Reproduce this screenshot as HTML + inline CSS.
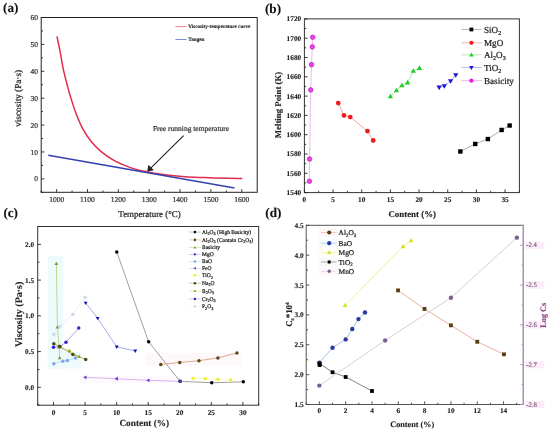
<!DOCTYPE html><html><head><meta charset="utf-8"><style>html,body{margin:0;padding:0;background:#fff;}svg{display:block;filter:blur(0.35px);}</style></head><body>
<svg width="550" height="432" viewBox="0 0 550 432" text-rendering="geometricPrecision" font-family='"Liberation Serif", serif'>
<rect width="550" height="432" fill="#fff"/>
<text x="10.7" y="12.19" font-size="13.2" text-anchor="middle" font-weight="bold" fill="#111" stroke="#111" stroke-width="0.12">(a)</text>
<path d="M57,36.4 C57.55,39.12 59.22,47.07 60.3,52.7 C61.38,58.33 62.23,64.38 63.5,70.2 C64.77,76.02 66.57,82.63 67.9,87.6 C69.23,92.57 70.17,95.75 71.5,100 C72.83,104.25 74.07,108.37 75.9,113.1 C77.73,117.83 79.95,123.67 82.5,128.4 C85.05,133.13 87.93,137.5 91.2,141.5 C94.47,145.5 98.1,149.13 102.1,152.4 C106.1,155.67 110.47,158.57 115.2,161.1 C119.93,163.63 125.42,165.85 130.5,167.6 C135.58,169.35 140.25,170.43 145.7,171.6 C151.15,172.77 156.65,173.73 163.2,174.6 C169.75,175.47 177.95,176.3 185,176.8 C192.05,177.3 198.45,177.35 205.5,177.6 C212.55,177.85 221.17,178.17 227.3,178.3 C233.43,178.43 239.8,178.38 242.3,178.4" fill="none" stroke="#e02c4c" stroke-width="1.5"/>
<line x1="48.3" y1="155.3" x2="234.5" y2="188" stroke="#3440b0" stroke-width="1.5"/>
<rect x="41.2" y="17.5" width="216" height="174.8" fill="none" stroke="#222" stroke-width="1"/>
<line x1="56.63" y1="192.3" x2="56.63" y2="189.1" stroke="#222" stroke-width="0.9"/>
<line x1="87.49" y1="192.3" x2="87.49" y2="189.1" stroke="#222" stroke-width="0.9"/>
<line x1="118.34" y1="192.3" x2="118.34" y2="189.1" stroke="#222" stroke-width="0.9"/>
<line x1="149.2" y1="192.3" x2="149.2" y2="189.1" stroke="#222" stroke-width="0.9"/>
<line x1="180.06" y1="192.3" x2="180.06" y2="189.1" stroke="#222" stroke-width="0.9"/>
<line x1="210.91" y1="192.3" x2="210.91" y2="189.1" stroke="#222" stroke-width="0.9"/>
<line x1="241.77" y1="192.3" x2="241.77" y2="189.1" stroke="#222" stroke-width="0.9"/>
<line x1="41.2" y1="192.3" x2="41.2" y2="190.5" stroke="#222" stroke-width="0.9"/>
<line x1="72.06" y1="192.3" x2="72.06" y2="190.5" stroke="#222" stroke-width="0.9"/>
<line x1="102.91" y1="192.3" x2="102.91" y2="190.5" stroke="#222" stroke-width="0.9"/>
<line x1="133.77" y1="192.3" x2="133.77" y2="190.5" stroke="#222" stroke-width="0.9"/>
<line x1="164.63" y1="192.3" x2="164.63" y2="190.5" stroke="#222" stroke-width="0.9"/>
<line x1="195.49" y1="192.3" x2="195.49" y2="190.5" stroke="#222" stroke-width="0.9"/>
<line x1="226.34" y1="192.3" x2="226.34" y2="190.5" stroke="#222" stroke-width="0.9"/>
<line x1="41.2" y1="178.85" x2="44.4" y2="178.85" stroke="#222" stroke-width="0.9"/>
<line x1="41.2" y1="151.96" x2="44.4" y2="151.96" stroke="#222" stroke-width="0.9"/>
<line x1="41.2" y1="125.07" x2="44.4" y2="125.07" stroke="#222" stroke-width="0.9"/>
<line x1="41.2" y1="98.18" x2="44.4" y2="98.18" stroke="#222" stroke-width="0.9"/>
<line x1="41.2" y1="71.28" x2="44.4" y2="71.28" stroke="#222" stroke-width="0.9"/>
<line x1="41.2" y1="44.39" x2="44.4" y2="44.39" stroke="#222" stroke-width="0.9"/>
<line x1="41.2" y1="17.5" x2="44.4" y2="17.5" stroke="#222" stroke-width="0.9"/>
<line x1="41.2" y1="192.3" x2="43" y2="192.3" stroke="#222" stroke-width="0.9"/>
<line x1="41.2" y1="165.41" x2="43" y2="165.41" stroke="#222" stroke-width="0.9"/>
<line x1="41.2" y1="138.52" x2="43" y2="138.52" stroke="#222" stroke-width="0.9"/>
<line x1="41.2" y1="111.62" x2="43" y2="111.62" stroke="#222" stroke-width="0.9"/>
<line x1="41.2" y1="84.73" x2="43" y2="84.73" stroke="#222" stroke-width="0.9"/>
<line x1="41.2" y1="57.84" x2="43" y2="57.84" stroke="#222" stroke-width="0.9"/>
<line x1="41.2" y1="30.95" x2="43" y2="30.95" stroke="#222" stroke-width="0.9"/>
<text x="56.63" y="202.15" font-size="7.5" text-anchor="middle" font-weight="normal" fill="#333" stroke="#333" stroke-width="0.22">1000</text>
<text x="87.49" y="202.15" font-size="7.5" text-anchor="middle" font-weight="normal" fill="#333" stroke="#333" stroke-width="0.22">1100</text>
<text x="118.34" y="202.15" font-size="7.5" text-anchor="middle" font-weight="normal" fill="#333" stroke="#333" stroke-width="0.22">1200</text>
<text x="149.2" y="202.15" font-size="7.5" text-anchor="middle" font-weight="normal" fill="#333" stroke="#333" stroke-width="0.22">1300</text>
<text x="180.06" y="202.15" font-size="7.5" text-anchor="middle" font-weight="normal" fill="#333" stroke="#333" stroke-width="0.22">1400</text>
<text x="210.91" y="202.15" font-size="7.5" text-anchor="middle" font-weight="normal" fill="#333" stroke="#333" stroke-width="0.22">1500</text>
<text x="241.77" y="202.15" font-size="7.5" text-anchor="middle" font-weight="normal" fill="#333" stroke="#333" stroke-width="0.22">1600</text>
<text x="38" y="181.4" font-size="7.5" text-anchor="end" font-weight="normal" fill="#333" stroke="#333" stroke-width="0.22">0</text>
<text x="38" y="154.51" font-size="7.5" text-anchor="end" font-weight="normal" fill="#333" stroke="#333" stroke-width="0.22">10</text>
<text x="38" y="127.62" font-size="7.5" text-anchor="end" font-weight="normal" fill="#333" stroke="#333" stroke-width="0.22">20</text>
<text x="38" y="100.73" font-size="7.5" text-anchor="end" font-weight="normal" fill="#333" stroke="#333" stroke-width="0.22">30</text>
<text x="38" y="73.83" font-size="7.5" text-anchor="end" font-weight="normal" fill="#333" stroke="#333" stroke-width="0.22">40</text>
<text x="38" y="46.94" font-size="7.5" text-anchor="end" font-weight="normal" fill="#333" stroke="#333" stroke-width="0.22">50</text>
<text x="38" y="20.05" font-size="7.5" text-anchor="end" font-weight="normal" fill="#333" stroke="#333" stroke-width="0.22">60</text>
<text x="149.5" y="216.53" font-size="8.9" text-anchor="middle" font-weight="normal" fill="#222" stroke="#222" stroke-width="0.22">Temperature (°C)</text>
<text x="17.8" y="101.53" font-size="9.2" text-anchor="middle" font-weight="normal" fill="#222" stroke="#222" stroke-width="0.22" transform="rotate(-90 17.8 98.4)">viscosity (Pa·s)</text>
<line x1="183.6" y1="135.7" x2="150.5" y2="168.3" stroke="#222" stroke-width="1.1"/>
<polygon points="147.2,171.6 148.4,164.8 153.9,170.3" fill="#222"/>
<text x="191" y="131.05" font-size="7.5" text-anchor="middle" font-weight="normal" fill="#333" stroke="#333" stroke-width="0.22">Free running temperature</text>
<line x1="175.4" y1="26.6" x2="186.6" y2="26.6" stroke="#f07080" stroke-width="0.9"/>
<text x="188.3" y="27.85" font-size="5.15" text-anchor="start" font-weight="bold" fill="#222" stroke="#222" stroke-width="0.12">Viscosity-temperature curve</text>
<line x1="175.4" y1="39.5" x2="186.6" y2="39.5" stroke="#7080d0" stroke-width="0.9"/>
<text x="188.3" y="41.35" font-size="5.15" text-anchor="start" font-weight="bold" fill="#222" stroke="#222" stroke-width="0.12">Tangen</text>
<text x="273" y="12.99" font-size="13.2" text-anchor="middle" font-weight="bold" fill="#111" stroke="#111" stroke-width="0.12">(b)</text>
<rect x="304.4" y="18.9" width="215" height="173.7" fill="none" stroke="#333" stroke-width="1"/>
<line x1="304.4" y1="192.6" x2="304.4" y2="189.4" stroke="#222" stroke-width="0.9"/>
<line x1="333.07" y1="192.6" x2="333.07" y2="189.4" stroke="#222" stroke-width="0.9"/>
<line x1="361.73" y1="192.6" x2="361.73" y2="189.4" stroke="#222" stroke-width="0.9"/>
<line x1="390.4" y1="192.6" x2="390.4" y2="189.4" stroke="#222" stroke-width="0.9"/>
<line x1="419.07" y1="192.6" x2="419.07" y2="189.4" stroke="#222" stroke-width="0.9"/>
<line x1="447.73" y1="192.6" x2="447.73" y2="189.4" stroke="#222" stroke-width="0.9"/>
<line x1="476.4" y1="192.6" x2="476.4" y2="189.4" stroke="#222" stroke-width="0.9"/>
<line x1="505.07" y1="192.6" x2="505.07" y2="189.4" stroke="#222" stroke-width="0.9"/>
<line x1="318.73" y1="192.6" x2="318.73" y2="190.8" stroke="#222" stroke-width="0.9"/>
<line x1="347.4" y1="192.6" x2="347.4" y2="190.8" stroke="#222" stroke-width="0.9"/>
<line x1="376.07" y1="192.6" x2="376.07" y2="190.8" stroke="#222" stroke-width="0.9"/>
<line x1="404.73" y1="192.6" x2="404.73" y2="190.8" stroke="#222" stroke-width="0.9"/>
<line x1="433.4" y1="192.6" x2="433.4" y2="190.8" stroke="#222" stroke-width="0.9"/>
<line x1="462.07" y1="192.6" x2="462.07" y2="190.8" stroke="#222" stroke-width="0.9"/>
<line x1="490.73" y1="192.6" x2="490.73" y2="190.8" stroke="#222" stroke-width="0.9"/>
<line x1="519.4" y1="192.6" x2="519.4" y2="190.8" stroke="#222" stroke-width="0.9"/>
<line x1="304.4" y1="192.6" x2="307.6" y2="192.6" stroke="#222" stroke-width="0.9"/>
<line x1="304.4" y1="173.3" x2="307.6" y2="173.3" stroke="#222" stroke-width="0.9"/>
<line x1="304.4" y1="154" x2="307.6" y2="154" stroke="#222" stroke-width="0.9"/>
<line x1="304.4" y1="134.7" x2="307.6" y2="134.7" stroke="#222" stroke-width="0.9"/>
<line x1="304.4" y1="115.4" x2="307.6" y2="115.4" stroke="#222" stroke-width="0.9"/>
<line x1="304.4" y1="96.1" x2="307.6" y2="96.1" stroke="#222" stroke-width="0.9"/>
<line x1="304.4" y1="76.8" x2="307.6" y2="76.8" stroke="#222" stroke-width="0.9"/>
<line x1="304.4" y1="57.5" x2="307.6" y2="57.5" stroke="#222" stroke-width="0.9"/>
<line x1="304.4" y1="38.2" x2="307.6" y2="38.2" stroke="#222" stroke-width="0.9"/>
<line x1="304.4" y1="18.9" x2="307.6" y2="18.9" stroke="#222" stroke-width="0.9"/>
<line x1="304.4" y1="182.95" x2="306.2" y2="182.95" stroke="#222" stroke-width="0.9"/>
<line x1="304.4" y1="163.65" x2="306.2" y2="163.65" stroke="#222" stroke-width="0.9"/>
<line x1="304.4" y1="144.35" x2="306.2" y2="144.35" stroke="#222" stroke-width="0.9"/>
<line x1="304.4" y1="125.05" x2="306.2" y2="125.05" stroke="#222" stroke-width="0.9"/>
<line x1="304.4" y1="105.75" x2="306.2" y2="105.75" stroke="#222" stroke-width="0.9"/>
<line x1="304.4" y1="86.45" x2="306.2" y2="86.45" stroke="#222" stroke-width="0.9"/>
<line x1="304.4" y1="67.15" x2="306.2" y2="67.15" stroke="#222" stroke-width="0.9"/>
<line x1="304.4" y1="47.85" x2="306.2" y2="47.85" stroke="#222" stroke-width="0.9"/>
<line x1="304.4" y1="28.55" x2="306.2" y2="28.55" stroke="#222" stroke-width="0.9"/>
<text x="304.4" y="202.08" font-size="7.3" text-anchor="middle" font-weight="bold" fill="#222" stroke="#222" stroke-width="0.12">0</text>
<text x="333.07" y="202.08" font-size="7.3" text-anchor="middle" font-weight="bold" fill="#222" stroke="#222" stroke-width="0.12">5</text>
<text x="361.73" y="202.08" font-size="7.3" text-anchor="middle" font-weight="bold" fill="#222" stroke="#222" stroke-width="0.12">10</text>
<text x="390.4" y="202.08" font-size="7.3" text-anchor="middle" font-weight="bold" fill="#222" stroke="#222" stroke-width="0.12">15</text>
<text x="419.07" y="202.08" font-size="7.3" text-anchor="middle" font-weight="bold" fill="#222" stroke="#222" stroke-width="0.12">20</text>
<text x="447.73" y="202.08" font-size="7.3" text-anchor="middle" font-weight="bold" fill="#222" stroke="#222" stroke-width="0.12">25</text>
<text x="476.4" y="202.08" font-size="7.3" text-anchor="middle" font-weight="bold" fill="#222" stroke="#222" stroke-width="0.12">30</text>
<text x="505.07" y="202.08" font-size="7.3" text-anchor="middle" font-weight="bold" fill="#222" stroke="#222" stroke-width="0.12">35</text>
<text x="301.2" y="195.08" font-size="7.3" text-anchor="end" font-weight="bold" fill="#222" stroke="#222" stroke-width="0.12">1540</text>
<text x="301.2" y="175.78" font-size="7.3" text-anchor="end" font-weight="bold" fill="#222" stroke="#222" stroke-width="0.12">1560</text>
<text x="301.2" y="156.48" font-size="7.3" text-anchor="end" font-weight="bold" fill="#222" stroke="#222" stroke-width="0.12">1580</text>
<text x="301.2" y="137.18" font-size="7.3" text-anchor="end" font-weight="bold" fill="#222" stroke="#222" stroke-width="0.12">1600</text>
<text x="301.2" y="117.88" font-size="7.3" text-anchor="end" font-weight="bold" fill="#222" stroke="#222" stroke-width="0.12">1620</text>
<text x="301.2" y="98.58" font-size="7.3" text-anchor="end" font-weight="bold" fill="#222" stroke="#222" stroke-width="0.12">1640</text>
<text x="301.2" y="79.28" font-size="7.3" text-anchor="end" font-weight="bold" fill="#222" stroke="#222" stroke-width="0.12">1660</text>
<text x="301.2" y="59.98" font-size="7.3" text-anchor="end" font-weight="bold" fill="#222" stroke="#222" stroke-width="0.12">1680</text>
<text x="301.2" y="40.68" font-size="7.3" text-anchor="end" font-weight="bold" fill="#222" stroke="#222" stroke-width="0.12">1700</text>
<text x="301.2" y="21.38" font-size="7.3" text-anchor="end" font-weight="bold" fill="#222" stroke="#222" stroke-width="0.12">1720</text>
<text x="412.2" y="217.03" font-size="8.9" text-anchor="middle" font-weight="bold" fill="#222" stroke="#222" stroke-width="0.12">Content (%)</text>
<text x="278.3" y="107.99" font-size="8.8" text-anchor="middle" font-weight="bold" fill="#222" stroke="#222" stroke-width="0.12" transform="rotate(-90 278.3 105)">Melting Point (K)</text>
<polyline points="460.35,151.49 475.25,143.96 487.87,139.04 501.63,129.97 509.65,125.53" fill="none" stroke="#888888" stroke-width="0.7" stroke-linejoin="round"/>
<polyline points="338.23,103.05 343.96,115.4 350.27,117.04 367.47,131.03 373.2,140.49" fill="none" stroke="#f08080" stroke-width="0.7" stroke-linejoin="round"/>
<polyline points="390.4,96.49 396.42,90.5 401.87,85.48 407.6,82.59 413.33,71.01 419.47,68.11" fill="none" stroke="#80e080" stroke-width="0.7" stroke-linejoin="round"/>
<polyline points="439.13,87.42 444.29,85.97 450.6,81.05 455.76,74.97" fill="none" stroke="#8080e0" stroke-width="0.7" stroke-linejoin="round"/>
<polyline points="309.39,181.21 309.56,159.02 310.71,89.92 311.51,64.64 312.31,46.88 312.71,37.23" fill="none" stroke="#e080e0" stroke-width="0.55" stroke-linejoin="round"/>
<rect x="458.15" y="149.29" width="4.4" height="4.4" fill="#000000"/>
<rect x="473.05" y="141.76" width="4.4" height="4.4" fill="#000000"/>
<rect x="485.67" y="136.84" width="4.4" height="4.4" fill="#000000"/>
<rect x="499.43" y="127.77" width="4.4" height="4.4" fill="#000000"/>
<rect x="507.45" y="123.33" width="4.4" height="4.4" fill="#000000"/>
<circle cx="338.23" cy="103.05" r="2.4" fill="#ee1c1c"/>
<circle cx="343.96" cy="115.4" r="2.4" fill="#ee1c1c"/>
<circle cx="350.27" cy="117.04" r="2.4" fill="#ee1c1c"/>
<circle cx="367.47" cy="131.03" r="2.4" fill="#ee1c1c"/>
<circle cx="373.2" cy="140.49" r="2.4" fill="#ee1c1c"/>
<polygon points="390.4,93.73 393.04,98.29 387.76,98.29" fill="#22cc22"/>
<polygon points="396.42,87.74 399.06,92.3 393.78,92.3" fill="#22cc22"/>
<polygon points="401.87,82.72 404.51,87.28 399.23,87.28" fill="#22cc22"/>
<polygon points="407.6,79.83 410.24,84.39 404.96,84.39" fill="#22cc22"/>
<polygon points="413.33,68.25 415.97,72.81 410.69,72.81" fill="#22cc22"/>
<polygon points="419.47,65.35 422.11,69.91 416.83,69.91" fill="#22cc22"/>
<polygon points="439.13,90.18 441.77,85.62 436.49,85.62" fill="#1a1ad0"/>
<polygon points="444.29,88.73 446.93,84.17 441.65,84.17" fill="#1a1ad0"/>
<polygon points="450.6,83.81 453.24,79.25 447.96,79.25" fill="#1a1ad0"/>
<polygon points="455.76,77.73 458.4,73.17 453.12,73.17" fill="#1a1ad0"/>
<circle cx="309.39" cy="181.21" r="2.3" fill="#ee40ee" stroke="#b010b0" stroke-width="0.6"/>
<circle cx="309.56" cy="159.02" r="2.3" fill="#ee40ee" stroke="#b010b0" stroke-width="0.6"/>
<circle cx="310.71" cy="89.92" r="2.3" fill="#ee40ee" stroke="#b010b0" stroke-width="0.6"/>
<circle cx="311.51" cy="64.64" r="2.3" fill="#ee40ee" stroke="#b010b0" stroke-width="0.6"/>
<circle cx="312.31" cy="46.88" r="2.3" fill="#ee40ee" stroke="#b010b0" stroke-width="0.6"/>
<circle cx="312.71" cy="37.23" r="2.3" fill="#ee40ee" stroke="#b010b0" stroke-width="0.6"/>
<line x1="461.4" y1="29.5" x2="481.8" y2="29.5" stroke="#888888" stroke-width="0.8" opacity="0.75"/>
<rect x="469.5" y="27.6" width="3.8" height="3.8" fill="#000000"/>
<text x="484" y="32.59" font-size="9.1" text-anchor="start" font-weight="normal" fill="#222" stroke="#222" stroke-width="0.22">SiO<tspan font-size="6" dy="2">2</tspan></text>
<line x1="461.4" y1="42.8" x2="481.8" y2="42.8" stroke="#f08080" stroke-width="0.8" opacity="0.75"/>
<circle cx="471.4" cy="42.8" r="2.1" fill="#ee1c1c"/>
<text x="484" y="45.89" font-size="9.1" text-anchor="start" font-weight="normal" fill="#222" stroke="#222" stroke-width="0.22">MgO</text>
<line x1="461.4" y1="54.8" x2="481.8" y2="54.8" stroke="#80e080" stroke-width="0.8" opacity="0.75"/>
<polygon points="471.4,52.38 473.71,56.38 469.09,56.38" fill="#22cc22"/>
<text x="484" y="57.89" font-size="9.1" text-anchor="start" font-weight="normal" fill="#222" stroke="#222" stroke-width="0.22">Al<tspan font-size="6" dy="2">2</tspan><tspan dy="-2">O</tspan><tspan font-size="6" dy="2">3</tspan></text>
<line x1="461.4" y1="67.6" x2="481.8" y2="67.6" stroke="#8080e0" stroke-width="0.8" opacity="0.75"/>
<polygon points="471.4,70.02 473.71,66.02 469.09,66.02" fill="#1a1ad0"/>
<text x="484" y="70.69" font-size="9.1" text-anchor="start" font-weight="normal" fill="#222" stroke="#222" stroke-width="0.22">TiO<tspan font-size="6" dy="2">2</tspan></text>
<line x1="461.4" y1="80.7" x2="481.8" y2="80.7" stroke="#e080e0" stroke-width="0.8" opacity="0.75"/>
<circle cx="471.4" cy="80.7" r="2.1" fill="#e020e0"/>
<text x="484" y="83.79" font-size="9.1" text-anchor="start" font-weight="normal" fill="#222" stroke="#222" stroke-width="0.22">Basicity</text>
<text x="10.7" y="217.09" font-size="13.2" text-anchor="middle" font-weight="bold" fill="#111" stroke="#111" stroke-width="0.12">(c)</text>
<rect x="37.7" y="226.5" width="221" height="178.7" fill="none" stroke="#333" stroke-width="1"/>
<line x1="53.49" y1="405.2" x2="53.49" y2="402" stroke="#222" stroke-width="0.9"/>
<line x1="85.06" y1="405.2" x2="85.06" y2="402" stroke="#222" stroke-width="0.9"/>
<line x1="116.63" y1="405.2" x2="116.63" y2="402" stroke="#222" stroke-width="0.9"/>
<line x1="148.2" y1="405.2" x2="148.2" y2="402" stroke="#222" stroke-width="0.9"/>
<line x1="179.77" y1="405.2" x2="179.77" y2="402" stroke="#222" stroke-width="0.9"/>
<line x1="211.34" y1="405.2" x2="211.34" y2="402" stroke="#222" stroke-width="0.9"/>
<line x1="242.91" y1="405.2" x2="242.91" y2="402" stroke="#222" stroke-width="0.9"/>
<line x1="37.7" y1="405.2" x2="37.7" y2="403.4" stroke="#222" stroke-width="0.9"/>
<line x1="69.27" y1="405.2" x2="69.27" y2="403.4" stroke="#222" stroke-width="0.9"/>
<line x1="100.84" y1="405.2" x2="100.84" y2="403.4" stroke="#222" stroke-width="0.9"/>
<line x1="132.41" y1="405.2" x2="132.41" y2="403.4" stroke="#222" stroke-width="0.9"/>
<line x1="163.99" y1="405.2" x2="163.99" y2="403.4" stroke="#222" stroke-width="0.9"/>
<line x1="195.56" y1="405.2" x2="195.56" y2="403.4" stroke="#222" stroke-width="0.9"/>
<line x1="227.13" y1="405.2" x2="227.13" y2="403.4" stroke="#222" stroke-width="0.9"/>
<line x1="258.7" y1="405.2" x2="258.7" y2="403.4" stroke="#222" stroke-width="0.9"/>
<line x1="37.7" y1="387.33" x2="40.9" y2="387.33" stroke="#222" stroke-width="0.9"/>
<line x1="37.7" y1="351.59" x2="40.9" y2="351.59" stroke="#222" stroke-width="0.9"/>
<line x1="37.7" y1="315.85" x2="40.9" y2="315.85" stroke="#222" stroke-width="0.9"/>
<line x1="37.7" y1="280.11" x2="40.9" y2="280.11" stroke="#222" stroke-width="0.9"/>
<line x1="37.7" y1="244.37" x2="40.9" y2="244.37" stroke="#222" stroke-width="0.9"/>
<line x1="37.7" y1="405.2" x2="39.5" y2="405.2" stroke="#222" stroke-width="0.9"/>
<line x1="37.7" y1="369.46" x2="39.5" y2="369.46" stroke="#222" stroke-width="0.9"/>
<line x1="37.7" y1="333.72" x2="39.5" y2="333.72" stroke="#222" stroke-width="0.9"/>
<line x1="37.7" y1="297.98" x2="39.5" y2="297.98" stroke="#222" stroke-width="0.9"/>
<line x1="37.7" y1="262.24" x2="39.5" y2="262.24" stroke="#222" stroke-width="0.9"/>
<line x1="37.7" y1="226.5" x2="39.5" y2="226.5" stroke="#222" stroke-width="0.9"/>
<text x="53.49" y="415.28" font-size="7.3" text-anchor="middle" font-weight="bold" fill="#222" stroke="#222" stroke-width="0.12">0</text>
<text x="85.06" y="415.28" font-size="7.3" text-anchor="middle" font-weight="bold" fill="#222" stroke="#222" stroke-width="0.12">5</text>
<text x="116.63" y="415.28" font-size="7.3" text-anchor="middle" font-weight="bold" fill="#222" stroke="#222" stroke-width="0.12">10</text>
<text x="148.2" y="415.28" font-size="7.3" text-anchor="middle" font-weight="bold" fill="#222" stroke="#222" stroke-width="0.12">15</text>
<text x="179.77" y="415.28" font-size="7.3" text-anchor="middle" font-weight="bold" fill="#222" stroke="#222" stroke-width="0.12">20</text>
<text x="211.34" y="415.28" font-size="7.3" text-anchor="middle" font-weight="bold" fill="#222" stroke="#222" stroke-width="0.12">25</text>
<text x="242.91" y="415.28" font-size="7.3" text-anchor="middle" font-weight="bold" fill="#222" stroke="#222" stroke-width="0.12">30</text>
<text x="34.2" y="389.81" font-size="7.3" text-anchor="end" font-weight="bold" fill="#222" stroke="#222" stroke-width="0.12">0.0</text>
<text x="34.2" y="354.07" font-size="7.3" text-anchor="end" font-weight="bold" fill="#222" stroke="#222" stroke-width="0.12">0.5</text>
<text x="34.2" y="318.33" font-size="7.3" text-anchor="end" font-weight="bold" fill="#222" stroke="#222" stroke-width="0.12">1.0</text>
<text x="34.2" y="282.59" font-size="7.3" text-anchor="end" font-weight="bold" fill="#222" stroke="#222" stroke-width="0.12">1.5</text>
<text x="34.2" y="246.85" font-size="7.3" text-anchor="end" font-weight="bold" fill="#222" stroke="#222" stroke-width="0.12">2.0</text>
<text x="144.3" y="426.16" font-size="9.3" text-anchor="middle" font-weight="bold" fill="#222" stroke="#222" stroke-width="0.12">Content (%)</text>
<text x="18.3" y="317.8" font-size="10" text-anchor="middle" font-weight="bold" fill="#222" stroke="#222" stroke-width="0.12" transform="rotate(-90 18.3 314.4)">Viscosity (Pa·s)</text>
<rect x="145" y="353" width="96" height="13" fill="#fef8fb"/>
<rect x="80" y="376" width="98" height="7" fill="#fef9fe"/>
<rect x="47.8" y="256" width="15.5" height="112.5" fill="#eefbfc"/>
<rect x="47.8" y="352" width="33.5" height="16.5" fill="#eefbfc"/>
<polyline points="116.75,251.95 148.64,341.8 180.09,381.25 211.72,382.76 243.29,381.83" fill="none" stroke="#777777" stroke-width="0.7" stroke-linejoin="round"/>
<polyline points="160.77,364.46 179.77,362.45 198.97,360.74 217.91,357.88 236.92,353.02" fill="none" stroke="#d08a60" stroke-width="0.7" stroke-linejoin="round"/>
<polyline points="56.39,263.67 57.4,327.29 59.17,346.59 59.67,358.02" fill="none" stroke="#a8c860" stroke-width="0.7" stroke-linejoin="round"/>
<polyline points="85.69,302.98 97.69,318.35 116.75,346.87 135.26,350.88" fill="none" stroke="#8484dc" stroke-width="0.7" stroke-linejoin="round"/>
<polyline points="53.8,363.74 62.89,361.24 67.38,360.52 75.4,358.02" fill="none" stroke="#a8c8f0" stroke-width="0.7" stroke-linejoin="round"/>
<polyline points="85.18,377.32 116.63,378.75 148.2,380.32 180.4,381.33" fill="none" stroke="#c890e8" stroke-width="0.7" stroke-linejoin="round"/>
<polyline points="192.97,378.25 205.22,378.82 217.91,379.32 230.6,379.97" fill="none" stroke="#f8f8a0" stroke-width="0.7" stroke-linejoin="round"/>
<polyline points="53.49,347.3 59.8,346.59 65.99,342.3 78.74,328" fill="none" stroke="#9080e8" stroke-width="0.7" stroke-linejoin="round"/>
<polyline points="58.85,347.3 69.46,350.88 79.18,356.59" fill="none" stroke="#c8c860" stroke-width="0.7" stroke-linejoin="round"/>
<polyline points="53.8,343.73 59.67,346.59 72.87,354.45 85.69,359.45" fill="none" stroke="#8a8a40" stroke-width="0.7" stroke-linejoin="round"/>
<polyline points="53.8,334.43 59.8,326.57 72.87,314.42 85.06,297.27" fill="none" stroke="#e2e6f2" stroke-width="0.7" stroke-linejoin="round"/>
<circle cx="116.75" cy="251.95" r="1.75" fill="#000000"/>
<circle cx="148.64" cy="341.8" r="1.75" fill="#000000"/>
<circle cx="180.09" cy="381.25" r="1.75" fill="#000000"/>
<circle cx="211.72" cy="382.76" r="1.75" fill="#000000"/>
<circle cx="243.29" cy="381.83" r="1.75" fill="#000000"/>
<circle cx="160.77" cy="364.46" r="1.75" fill="#5a4a1a"/>
<circle cx="179.77" cy="362.45" r="1.75" fill="#5a4a1a"/>
<circle cx="198.97" cy="360.74" r="1.75" fill="#5a4a1a"/>
<circle cx="217.91" cy="357.88" r="1.75" fill="#5a4a1a"/>
<circle cx="236.92" cy="353.02" r="1.75" fill="#5a4a1a"/>
<polygon points="56.39,261.66 58.32,264.98 54.47,264.98" fill="#7aa02a"/>
<polygon points="57.4,325.27 59.33,328.6 55.48,328.6" fill="#7aa02a"/>
<polygon points="59.17,344.57 61.09,347.9 57.24,347.9" fill="#7aa02a"/>
<polygon points="59.67,356.01 61.6,359.34 57.75,359.34" fill="#7aa02a"/>
<polygon points="85.69,305 87.61,301.67 83.76,301.67" fill="#1010c0"/>
<polygon points="97.69,320.36 99.61,317.04 95.76,317.04" fill="#1010c0"/>
<polygon points="116.75,348.88 118.68,345.56 114.83,345.56" fill="#1010c0"/>
<polygon points="135.26,352.89 137.18,349.56 133.33,349.56" fill="#1010c0"/>
<circle cx="53.8" cy="363.74" r="1.75" fill="#80a8e0"/>
<circle cx="62.89" cy="361.24" r="1.75" fill="#80a8e0"/>
<circle cx="67.38" cy="360.52" r="1.75" fill="#80a8e0"/>
<circle cx="75.4" cy="358.02" r="1.75" fill="#80a8e0"/>
<polygon points="83.17,377.32 86.5,375.4 86.5,379.25" fill="#6040d0"/>
<polygon points="114.62,378.75 117.94,376.83 117.94,380.68" fill="#6040d0"/>
<polygon points="146.19,380.32 149.51,378.4 149.51,382.25" fill="#6040d0"/>
<polygon points="178.39,381.33 181.72,379.4 181.72,383.25" fill="#6040d0"/>
<circle cx="192.97" cy="378.25" r="1.75" fill="#f0f030"/>
<circle cx="205.22" cy="378.82" r="1.75" fill="#f0f030"/>
<circle cx="217.91" cy="379.32" r="1.75" fill="#f0f030"/>
<circle cx="230.6" cy="379.97" r="1.75" fill="#f0f030"/>
<circle cx="53.49" cy="347.3" r="1.75" fill="#3a20d0"/>
<circle cx="59.8" cy="346.59" r="1.75" fill="#3a20d0"/>
<circle cx="65.99" cy="342.3" r="1.75" fill="#3a20d0"/>
<circle cx="78.74" cy="328" r="1.75" fill="#3a20d0"/>
<polygon points="58.85,345.29 60.78,348.61 56.93,348.61" fill="#a0a020"/>
<polygon points="69.46,348.86 71.39,352.19 67.54,352.19" fill="#a0a020"/>
<polygon points="79.18,354.58 81.11,357.91 77.26,357.91" fill="#a0a020"/>
<circle cx="53.8" cy="343.73" r="1.75" fill="#4a4a10"/>
<circle cx="59.67" cy="346.59" r="1.75" fill="#4a4a10"/>
<circle cx="72.87" cy="354.45" r="1.75" fill="#4a4a10"/>
<circle cx="85.69" cy="359.45" r="1.75" fill="#4a4a10"/>
<circle cx="53.8" cy="334.43" r="1.75" fill="#d0d8ec"/>
<circle cx="59.8" cy="326.57" r="1.75" fill="#d0d8ec"/>
<circle cx="72.87" cy="314.42" r="1.75" fill="#d0d8ec"/>
<circle cx="85.06" cy="297.27" r="1.75" fill="#d0d8ec"/>
<line x1="189" y1="232.1" x2="200.9" y2="232.1" stroke="#777777" stroke-width="0.6" opacity="0.7"/>
<circle cx="194.9" cy="232.1" r="1.3" fill="#000000"/>
<text x="202" y="233.97" font-size="5.5" text-anchor="start" font-weight="normal" fill="#222" stroke="#222" stroke-width="0.22">Al<tspan font-size="4.2" dy="1.3">2</tspan><tspan dy="-1.3">O</tspan><tspan font-size="4.2" dy="1.3">3</tspan><tspan dy="-1.3"> (High Basicity)</tspan></text>
<line x1="189" y1="239.9" x2="200.9" y2="239.9" stroke="#d08a60" stroke-width="0.6" opacity="0.7"/>
<circle cx="194.9" cy="239.9" r="1.3" fill="#5a4a1a"/>
<text x="202" y="241.77" font-size="5.5" text-anchor="start" font-weight="normal" fill="#222" stroke="#222" stroke-width="0.22">Al<tspan font-size="4.2" dy="1.3">2</tspan><tspan dy="-1.3">O</tspan><tspan font-size="4.2" dy="1.3">3</tspan><tspan dy="-1.3"> (Contain Cr</tspan><tspan font-size="4.2" dy="1.3">2</tspan><tspan dy="-1.3">O</tspan><tspan font-size="4.2" dy="1.3">3</tspan><tspan dy="-1.3">)</tspan></text>
<line x1="189" y1="247.5" x2="200.9" y2="247.5" stroke="#a8c860" stroke-width="0.6" opacity="0.7"/>
<polygon points="194.9,246 196.33,248.47 193.47,248.47" fill="#7aa02a"/>
<text x="202" y="249.37" font-size="5.5" text-anchor="start" font-weight="normal" fill="#222" stroke="#222" stroke-width="0.22">Basicity</text>
<line x1="189" y1="254.5" x2="200.9" y2="254.5" stroke="#8484dc" stroke-width="0.6" opacity="0.7"/>
<polygon points="194.9,256 196.33,253.53 193.47,253.53" fill="#1010c0"/>
<text x="202" y="256.37" font-size="5.5" text-anchor="start" font-weight="normal" fill="#222" stroke="#222" stroke-width="0.22">MgO</text>
<line x1="189" y1="261.5" x2="200.9" y2="261.5" stroke="#a8c8f0" stroke-width="0.6" opacity="0.7"/>
<circle cx="194.9" cy="261.5" r="1.3" fill="#80a8e0"/>
<text x="202" y="263.37" font-size="5.5" text-anchor="start" font-weight="normal" fill="#222" stroke="#222" stroke-width="0.22">BaO</text>
<line x1="189" y1="268.3" x2="200.9" y2="268.3" stroke="#c890e8" stroke-width="0.6" opacity="0.7"/>
<polygon points="193.41,268.3 195.88,266.87 195.88,269.73" fill="#6040d0"/>
<text x="202" y="270.17" font-size="5.5" text-anchor="start" font-weight="normal" fill="#222" stroke="#222" stroke-width="0.22">FeO</text>
<line x1="189" y1="275.4" x2="200.9" y2="275.4" stroke="#f8f8a0" stroke-width="0.6" opacity="0.7"/>
<circle cx="194.9" cy="275.4" r="1.3" fill="#f0f030"/>
<text x="202" y="277.27" font-size="5.5" text-anchor="start" font-weight="normal" fill="#222" stroke="#222" stroke-width="0.22">TiO<tspan font-size="4.2" dy="1.3">2</tspan></text>
<line x1="189" y1="283.2" x2="200.9" y2="283.2" stroke="#8a8a40" stroke-width="0.6" opacity="0.7"/>
<circle cx="194.9" cy="283.2" r="1.3" fill="#4a4a10"/>
<text x="202" y="285.07" font-size="5.5" text-anchor="start" font-weight="normal" fill="#222" stroke="#222" stroke-width="0.22">Na<tspan font-size="4.2" dy="1.3">2</tspan><tspan dy="-1.3">O</tspan></text>
<line x1="189" y1="291.1" x2="200.9" y2="291.1" stroke="#c8c860" stroke-width="0.6" opacity="0.7"/>
<polygon points="194.9,289.61 196.33,292.08 193.47,292.08" fill="#a0a020"/>
<text x="202" y="292.97" font-size="5.5" text-anchor="start" font-weight="normal" fill="#222" stroke="#222" stroke-width="0.22">B<tspan font-size="4.2" dy="1.3">2</tspan><tspan dy="-1.3">O</tspan><tspan font-size="4.2" dy="1.3">3</tspan></text>
<line x1="189" y1="299" x2="200.9" y2="299" stroke="#9080e8" stroke-width="0.6" opacity="0.7"/>
<circle cx="194.9" cy="299" r="1.3" fill="#3a20d0"/>
<text x="202" y="300.87" font-size="5.5" text-anchor="start" font-weight="normal" fill="#222" stroke="#222" stroke-width="0.22">Cr<tspan font-size="4.2" dy="1.3">2</tspan><tspan dy="-1.3">O</tspan><tspan font-size="4.2" dy="1.3">3</tspan></text>
<line x1="189" y1="306.4" x2="200.9" y2="306.4" stroke="#e2e6f2" stroke-width="0.6" opacity="0.7"/>
<circle cx="194.9" cy="306.4" r="1.3" fill="#d0d8ec"/>
<text x="202" y="308.27" font-size="5.5" text-anchor="start" font-weight="normal" fill="#222" stroke="#222" stroke-width="0.22">P<tspan font-size="4.2" dy="1.3">2</tspan><tspan dy="-1.3">O</tspan><tspan font-size="4.2" dy="1.3">3</tspan></text>
<text x="273.3" y="216.99" font-size="13.2" text-anchor="middle" font-weight="bold" fill="#111" stroke="#111" stroke-width="0.12">(d)</text>
<rect x="306.2" y="225.3" width="217.1" height="179.2" fill="none" stroke="#555" stroke-width="1"/>
<line x1="523.3" y1="225.3" x2="523.3" y2="404.5" stroke="#a898c4" stroke-width="1.2"/>
<line x1="319.36" y1="404.5" x2="319.36" y2="401.3" stroke="#444" stroke-width="0.9"/>
<line x1="345.67" y1="404.5" x2="345.67" y2="401.3" stroke="#444" stroke-width="0.9"/>
<line x1="371.99" y1="404.5" x2="371.99" y2="401.3" stroke="#444" stroke-width="0.9"/>
<line x1="398.3" y1="404.5" x2="398.3" y2="401.3" stroke="#444" stroke-width="0.9"/>
<line x1="424.62" y1="404.5" x2="424.62" y2="401.3" stroke="#444" stroke-width="0.9"/>
<line x1="450.93" y1="404.5" x2="450.93" y2="401.3" stroke="#444" stroke-width="0.9"/>
<line x1="477.25" y1="404.5" x2="477.25" y2="401.3" stroke="#444" stroke-width="0.9"/>
<line x1="503.56" y1="404.5" x2="503.56" y2="401.3" stroke="#444" stroke-width="0.9"/>
<line x1="306.2" y1="404.5" x2="306.2" y2="402.7" stroke="#444" stroke-width="0.9"/>
<line x1="332.52" y1="404.5" x2="332.52" y2="402.7" stroke="#444" stroke-width="0.9"/>
<line x1="358.83" y1="404.5" x2="358.83" y2="402.7" stroke="#444" stroke-width="0.9"/>
<line x1="385.15" y1="404.5" x2="385.15" y2="402.7" stroke="#444" stroke-width="0.9"/>
<line x1="411.46" y1="404.5" x2="411.46" y2="402.7" stroke="#444" stroke-width="0.9"/>
<line x1="437.78" y1="404.5" x2="437.78" y2="402.7" stroke="#444" stroke-width="0.9"/>
<line x1="464.09" y1="404.5" x2="464.09" y2="402.7" stroke="#444" stroke-width="0.9"/>
<line x1="490.41" y1="404.5" x2="490.41" y2="402.7" stroke="#444" stroke-width="0.9"/>
<line x1="516.72" y1="404.5" x2="516.72" y2="402.7" stroke="#444" stroke-width="0.9"/>
<line x1="306.2" y1="404.5" x2="309.4" y2="404.5" stroke="#444" stroke-width="0.9"/>
<line x1="306.2" y1="374.63" x2="309.4" y2="374.63" stroke="#444" stroke-width="0.9"/>
<line x1="306.2" y1="344.77" x2="309.4" y2="344.77" stroke="#444" stroke-width="0.9"/>
<line x1="306.2" y1="314.9" x2="309.4" y2="314.9" stroke="#444" stroke-width="0.9"/>
<line x1="306.2" y1="285.03" x2="309.4" y2="285.03" stroke="#444" stroke-width="0.9"/>
<line x1="306.2" y1="255.17" x2="309.4" y2="255.17" stroke="#444" stroke-width="0.9"/>
<line x1="306.2" y1="225.3" x2="309.4" y2="225.3" stroke="#444" stroke-width="0.9"/>
<line x1="306.2" y1="389.57" x2="308" y2="389.57" stroke="#444" stroke-width="0.9"/>
<line x1="306.2" y1="359.7" x2="308" y2="359.7" stroke="#444" stroke-width="0.9"/>
<line x1="306.2" y1="329.83" x2="308" y2="329.83" stroke="#444" stroke-width="0.9"/>
<line x1="306.2" y1="299.97" x2="308" y2="299.97" stroke="#444" stroke-width="0.9"/>
<line x1="306.2" y1="270.1" x2="308" y2="270.1" stroke="#444" stroke-width="0.9"/>
<line x1="306.2" y1="240.23" x2="308" y2="240.23" stroke="#444" stroke-width="0.9"/>
<line x1="523.3" y1="404.5" x2="520.1" y2="404.5" stroke="#a494c0" stroke-width="0.9"/>
<line x1="523.3" y1="364.68" x2="520.1" y2="364.68" stroke="#a494c0" stroke-width="0.9"/>
<line x1="523.3" y1="324.86" x2="520.1" y2="324.86" stroke="#a494c0" stroke-width="0.9"/>
<line x1="523.3" y1="285.03" x2="520.1" y2="285.03" stroke="#a494c0" stroke-width="0.9"/>
<line x1="523.3" y1="245.21" x2="520.1" y2="245.21" stroke="#a494c0" stroke-width="0.9"/>
<line x1="523.3" y1="384.59" x2="521.5" y2="384.59" stroke="#a494c0" stroke-width="0.9"/>
<line x1="523.3" y1="344.77" x2="521.5" y2="344.77" stroke="#a494c0" stroke-width="0.9"/>
<line x1="523.3" y1="304.94" x2="521.5" y2="304.94" stroke="#a494c0" stroke-width="0.9"/>
<line x1="523.3" y1="265.12" x2="521.5" y2="265.12" stroke="#a494c0" stroke-width="0.9"/>
<line x1="523.3" y1="225.3" x2="521.5" y2="225.3" stroke="#a494c0" stroke-width="0.9"/>
<text x="319.36" y="413.18" font-size="7.3" text-anchor="middle" font-weight="bold" fill="#222" stroke="#222" stroke-width="0.12">0</text>
<text x="345.67" y="413.18" font-size="7.3" text-anchor="middle" font-weight="bold" fill="#222" stroke="#222" stroke-width="0.12">2</text>
<text x="371.99" y="413.18" font-size="7.3" text-anchor="middle" font-weight="bold" fill="#222" stroke="#222" stroke-width="0.12">4</text>
<text x="398.3" y="413.18" font-size="7.3" text-anchor="middle" font-weight="bold" fill="#222" stroke="#222" stroke-width="0.12">6</text>
<text x="424.62" y="413.18" font-size="7.3" text-anchor="middle" font-weight="bold" fill="#222" stroke="#222" stroke-width="0.12">8</text>
<text x="450.93" y="413.18" font-size="7.3" text-anchor="middle" font-weight="bold" fill="#222" stroke="#222" stroke-width="0.12">10</text>
<text x="477.25" y="413.18" font-size="7.3" text-anchor="middle" font-weight="bold" fill="#222" stroke="#222" stroke-width="0.12">12</text>
<text x="503.56" y="413.18" font-size="7.3" text-anchor="middle" font-weight="bold" fill="#222" stroke="#222" stroke-width="0.12">14</text>
<text x="303.7" y="406.98" font-size="7.3" text-anchor="end" font-weight="bold" fill="#222" stroke="#222" stroke-width="0.12">1.5</text>
<text x="303.7" y="377.12" font-size="7.3" text-anchor="end" font-weight="bold" fill="#222" stroke="#222" stroke-width="0.12">2.0</text>
<text x="303.7" y="347.25" font-size="7.3" text-anchor="end" font-weight="bold" fill="#222" stroke="#222" stroke-width="0.12">2.5</text>
<text x="303.7" y="317.38" font-size="7.3" text-anchor="end" font-weight="bold" fill="#222" stroke="#222" stroke-width="0.12">3.0</text>
<text x="303.7" y="287.52" font-size="7.3" text-anchor="end" font-weight="bold" fill="#222" stroke="#222" stroke-width="0.12">3.5</text>
<text x="303.7" y="257.65" font-size="7.3" text-anchor="end" font-weight="bold" fill="#222" stroke="#222" stroke-width="0.12">4.0</text>
<text x="303.7" y="227.78" font-size="7.3" text-anchor="end" font-weight="bold" fill="#222" stroke="#222" stroke-width="0.12">4.5</text>
<rect x="524.6" y="241.56" width="19.7" height="7.3" fill="#fcecf7"/>
<text x="526.3" y="247.49" font-size="6.7" fill="#684870" stroke="#684870" stroke-width="0.1">-2.4</text>
<rect x="524.6" y="281.38" width="19.7" height="7.3" fill="#fcecf7"/>
<text x="526.3" y="287.31" font-size="6.7" fill="#684870" stroke="#684870" stroke-width="0.1">-2.5</text>
<rect x="524.6" y="321.21" width="19.7" height="7.3" fill="#fcecf7"/>
<text x="526.3" y="327.13" font-size="6.7" fill="#684870" stroke="#684870" stroke-width="0.1">-2.6</text>
<rect x="524.6" y="361.03" width="19.7" height="7.3" fill="#fcecf7"/>
<text x="526.3" y="366.96" font-size="6.7" fill="#684870" stroke="#684870" stroke-width="0.1">-2.7</text>
<rect x="524.6" y="400.85" width="19.7" height="7.3" fill="#fcecf7"/>
<text x="526.3" y="406.78" font-size="6.7" fill="#684870" stroke="#684870" stroke-width="0.1">-2.8</text>
<text x="412.2" y="426.99" font-size="8.2" text-anchor="middle" font-weight="bold" fill="#222" stroke="#222" stroke-width="0.12">Content (%)</text>
<text x="289" y="314.5" font-size="8.8" font-weight="bold" fill="#222" stroke="#222" stroke-width="0.15" text-anchor="middle" transform="rotate(-90 289 314.5)" dy="3">C<tspan font-size="5.5" dy="2">s</tspan><tspan dy="-2">*10</tspan><tspan font-size="5.5" dy="-3">4</tspan></text>
<text x="542.8" y="318.02" font-size="8.3" text-anchor="middle" font-weight="bold" fill="#8a3a7a" stroke="#8a3a7a" stroke-width="0.12" transform="rotate(-90 542.8 315.2)">Log Cs</text>
<polyline points="398.04,290.41 424.49,308.93 450.93,325.35 477.25,341.78 503.96,354.32" fill="none" stroke="#e0a080" stroke-width="0.8" stroke-linejoin="round"/>
<polyline points="319.36,362.69 332.52,347.75 345.67,339.39 352.25,328.94 358.44,319.08 365.01,312.51" fill="none" stroke="#90b0e0" stroke-width="0.8" stroke-linejoin="round"/>
<polyline points="345.01,305.34 403.04,246.51 411.07,240.53" fill="none" stroke="#f0f080" stroke-width="0.8" stroke-linejoin="round"/>
<polyline points="319.62,363.58 332.52,372.24 345.67,377.02 371.99,391" fill="none" stroke="#666666" stroke-width="0.8" stroke-linejoin="round"/>
<polyline points="319.36,385.58 385.15,340.39 450.93,297.78 516.85,237.64" fill="none" stroke="#d8bcd0" stroke-width="0.8" stroke-linejoin="round"/>
<rect x="396.14" y="288.51" width="3.8" height="3.8" fill="#5a3a10"/>
<rect x="422.59" y="307.03" width="3.8" height="3.8" fill="#5a3a10"/>
<rect x="449.03" y="323.45" width="3.8" height="3.8" fill="#5a3a10"/>
<rect x="475.35" y="339.88" width="3.8" height="3.8" fill="#5a3a10"/>
<rect x="502.06" y="352.42" width="3.8" height="3.8" fill="#5a3a10"/>
<circle cx="319.36" cy="362.69" r="2.2" fill="#2a3aa0"/>
<circle cx="332.52" cy="347.75" r="2.2" fill="#2a3aa0"/>
<circle cx="345.67" cy="339.39" r="2.2" fill="#2a3aa0"/>
<circle cx="352.25" cy="328.94" r="2.2" fill="#2a3aa0"/>
<circle cx="358.44" cy="319.08" r="2.2" fill="#2a3aa0"/>
<circle cx="365.01" cy="312.51" r="2.2" fill="#2a3aa0"/>
<polygon points="345.01,302.81 347.43,306.99 342.59,306.99" fill="#d8e020"/>
<polygon points="403.04,243.98 405.46,248.16 400.62,248.16" fill="#d8e020"/>
<polygon points="411.07,238 413.49,242.18 408.65,242.18" fill="#d8e020"/>
<rect x="317.72" y="361.68" width="3.8" height="3.8" fill="#000000"/>
<rect x="330.62" y="370.34" width="3.8" height="3.8" fill="#000000"/>
<rect x="343.77" y="375.12" width="3.8" height="3.8" fill="#000000"/>
<rect x="370.09" y="389.1" width="3.8" height="3.8" fill="#000000"/>
<circle cx="319.36" cy="385.58" r="2.2" fill="#7a6090"/>
<circle cx="385.15" cy="340.39" r="2.2" fill="#7a6090"/>
<circle cx="450.93" cy="297.78" r="2.2" fill="#7a6090"/>
<circle cx="516.85" cy="237.64" r="2.2" fill="#7a6090"/>
<rect x="317.72" y="363.18" width="3.8" height="3.8" fill="#000"/>
<rect x="318.5" y="228.2" width="20" height="8.6" fill="#fef7f9"/>
<line x1="321" y1="232.5" x2="336.5" y2="232.5" stroke="#e0a080" stroke-width="0.8" opacity="0.65"/>
<circle cx="329.2" cy="232.5" r="2.1" fill="#5a3a10"/>
<text x="338.6" y="235.02" font-size="7.4" text-anchor="start" font-weight="normal" fill="#222" stroke="#222" stroke-width="0.22">Al<tspan font-size="5" dy="1.8">2</tspan><tspan dy="-1.8">O</tspan><tspan font-size="5" dy="1.8">3</tspan></text>
<rect x="318.5" y="238.9" width="20" height="8.6" fill="#f5fbfd"/>
<line x1="321" y1="243.2" x2="336.5" y2="243.2" stroke="#90b0e0" stroke-width="0.8" opacity="0.65"/>
<circle cx="329.2" cy="243.2" r="2.1" fill="#2a3aa0"/>
<text x="338.6" y="245.72" font-size="7.4" text-anchor="start" font-weight="normal" fill="#222" stroke="#222" stroke-width="0.22">BaO</text>
<rect x="318.5" y="248.2" width="20" height="8.6" fill="#fefef2"/>
<line x1="321" y1="252.5" x2="336.5" y2="252.5" stroke="#f0f080" stroke-width="0.8" opacity="0.65"/>
<polygon points="329.2,250.2 331.4,254 327,254" fill="#d8e020"/>
<text x="338.6" y="255.02" font-size="7.4" text-anchor="start" font-weight="normal" fill="#222" stroke="#222" stroke-width="0.22">MgO</text>
<rect x="318.5" y="257.7" width="20" height="8.6" fill="#f9f9f9"/>
<line x1="321" y1="262" x2="336.5" y2="262" stroke="#666666" stroke-width="0.8" opacity="0.65"/>
<rect x="327.7" y="260.5" width="3" height="3" fill="#000000"/>
<text x="338.6" y="264.52" font-size="7.4" text-anchor="start" font-weight="normal" fill="#222" stroke="#222" stroke-width="0.22">TiO<tspan font-size="5" dy="1.8">2</tspan></text>
<rect x="318.5" y="267" width="20" height="8.6" fill="#fef8fb"/>
<line x1="321" y1="271.3" x2="336.5" y2="271.3" stroke="#d8bcd0" stroke-width="0.8" opacity="0.65"/>
<circle cx="329.2" cy="271.3" r="1.7" fill="#7a6090"/>
<text x="338.6" y="273.82" font-size="7.4" text-anchor="start" font-weight="normal" fill="#222" stroke="#222" stroke-width="0.22">MnO</text>
</svg></body></html>
